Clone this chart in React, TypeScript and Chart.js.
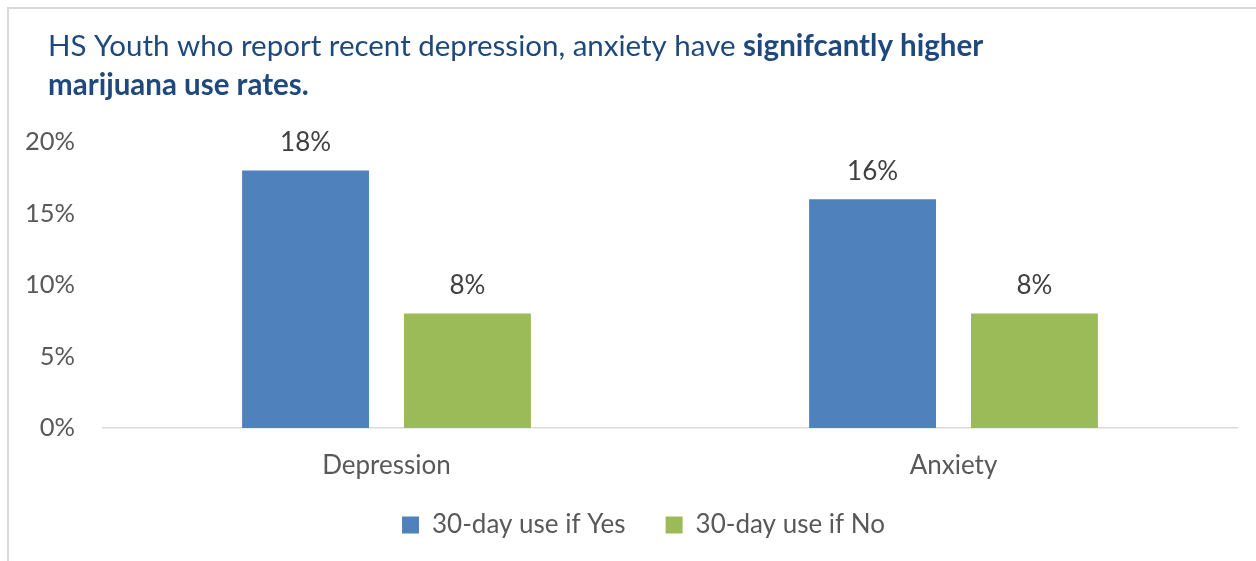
import React, { useEffect, useRef } from "react";
import { Chart, registerables } from "chart.js";

Chart.register(...registerables);

// Chart content
const categories = ["Depression", "Anxiety"];
const seriesLabels = ["30-day use if Yes", "30-day use if No"];
const useIfYes = [18, 16];
const useIfNo = [8, 8];
const yTicks = [0, 5, 10, 15, 20];
const titleNormal = "HS Youth who report recent depression, anxiety have ";
const titleBold = "signifcantly higher";
const titleLine2 = "marijuana use rates.";

const FONT = "Lato, 'Open Sans', sans-serif";
const TEXT_GRAY = "#595959";
const TITLE_BLUE = "#1F497D";
const BLUE = "#4F81BD";
const GREEN = "#9BBB59";

// Two-line title with a bold tail, drawn above the plot area
const titlePlugin = {
  id: "mixedTitle",
  afterDraw(chart: Chart) {
    const ctx = chart.ctx;
    ctx.save();
    ctx.fillStyle = TITLE_BLUE;
    ctx.textBaseline = "alphabetic";
    ctx.textAlign = "left";
    const x0 = 48;
    ctx.font = `400 29.5px ${FONT}`;
    ctx.fillText(titleNormal, x0, 56);
    const w = ctx.measureText(titleNormal).width;
    ctx.font = `700 29.5px ${FONT}`;
    ctx.fillText(titleBold, x0 + w, 56);
    ctx.fillText(titleLine2, x0, 95);
    ctx.restore();
  },
};

// Value labels above each bar
const valueLabelPlugin = {
  id: "valueLabels",
  afterDatasetsDraw(chart: Chart) {
    const ctx = chart.ctx;
    ctx.save();
    ctx.fillStyle = "#404040";
    ctx.font = `400 26px ${FONT}`;
    ctx.textAlign = "center";
    ctx.textBaseline = "middle";
    chart.data.datasets.forEach((ds, di) => {
      const meta = chart.getDatasetMeta(di);
      meta.data.forEach((bar: any, i) => {
        const v = ds.data[i] as number;
        ctx.fillText(`${v}%`, bar.x, bar.y - 28);
      });
    });
    ctx.restore();
  },
};

// The axes are kept tight so the legend and plot sit where they should;
// widen their label clip boxes after layout so no label is cut.
const axisLabelRoom = {
  id: "axisLabelRoom",
  afterLayout(chart: Chart) {
    const x: any = chart.scales.x;
    x.bottom = x.top + 70;
    const y: any = chart.scales.y;
    y.left = 0;
  },
};

export default function App() {
  const canvasRef = useRef<HTMLCanvasElement | null>(null);

  useEffect(() => {
    const canvas = canvasRef.current;
    if (!canvas) return;
    const chart = new Chart(canvas, {
      type: "bar",
      data: {
        labels: categories,
        datasets: [
          {
            label: seriesLabels[0],
            data: useIfYes,
            backgroundColor: BLUE,
            categoryPercentage: 0.571,
            barPercentage: 0.784,
          },
          {
            label: seriesLabels[1],
            data: useIfNo,
            backgroundColor: GREEN,
            categoryPercentage: 0.571,
            barPercentage: 0.784,
          },
        ],
      },
      options: {
        animation: false,
        responsive: false,
        maintainAspectRatio: false,
        layout: { padding: { top: 142, right: 19, left: 50, bottom: 13 } },
        plugins: {
          title: { display: false },
          tooltip: { enabled: false },
          legend: {
            position: "bottom",
            labels: {
              color: TEXT_GRAY,
              font: { family: FONT, size: 26 },
              boxWidth: 17,
              boxHeight: 17,
              padding: 40,
            },
          },
        },
        scales: {
          x: {
            grid: { display: false },
            border: { display: true, color: "#D9D9D9", width: 1.5 },
            ticks: {
              color: TEXT_GRAY,
              font: { family: FONT, size: 26 },
              padding: 14,
            },
            afterFit: (s: any) => {
              s.height = 44;
            },
          },
          y: {
            min: 0,
            max: 20,
            grid: { display: false, drawTicks: false },
            border: { display: false },
            afterBuildTicks: (s: any) => {
              s.ticks = yTicks.map((v) => ({ value: v }));
            },
            ticks: {
              color: TEXT_GRAY,
              font: { family: FONT, size: 25.5 },
              padding: 28,
              callback: (v: any) => `${v}%`,
            },
            afterFit: (s: any) => {
              s.width = 53;
            },
          },
        },
      },
      plugins: [titlePlugin, valueLabelPlugin, axisLabelRoom],
    });
    return () => chart.destroy();
  }, []);

  return (
    <div style={{ position: "fixed", left: 0, top: 0, width: 1256, height: 561, background: "#fff" }}>
      <div
        style={{
          position: "absolute",
          left: 7,
          top: 7,
          width: 1249,
          height: 554,
          borderLeft: "2px solid #D9D9D9",
          borderTop: "2px solid #D9D9D9",
          boxSizing: "border-box",
        }}
      />
      <canvas
        ref={canvasRef}
        width={1256}
        height={561}
        style={{ position: "absolute", left: 0, top: 0, width: 1256, height: 561 }}
      />
    </div>
  );
}
